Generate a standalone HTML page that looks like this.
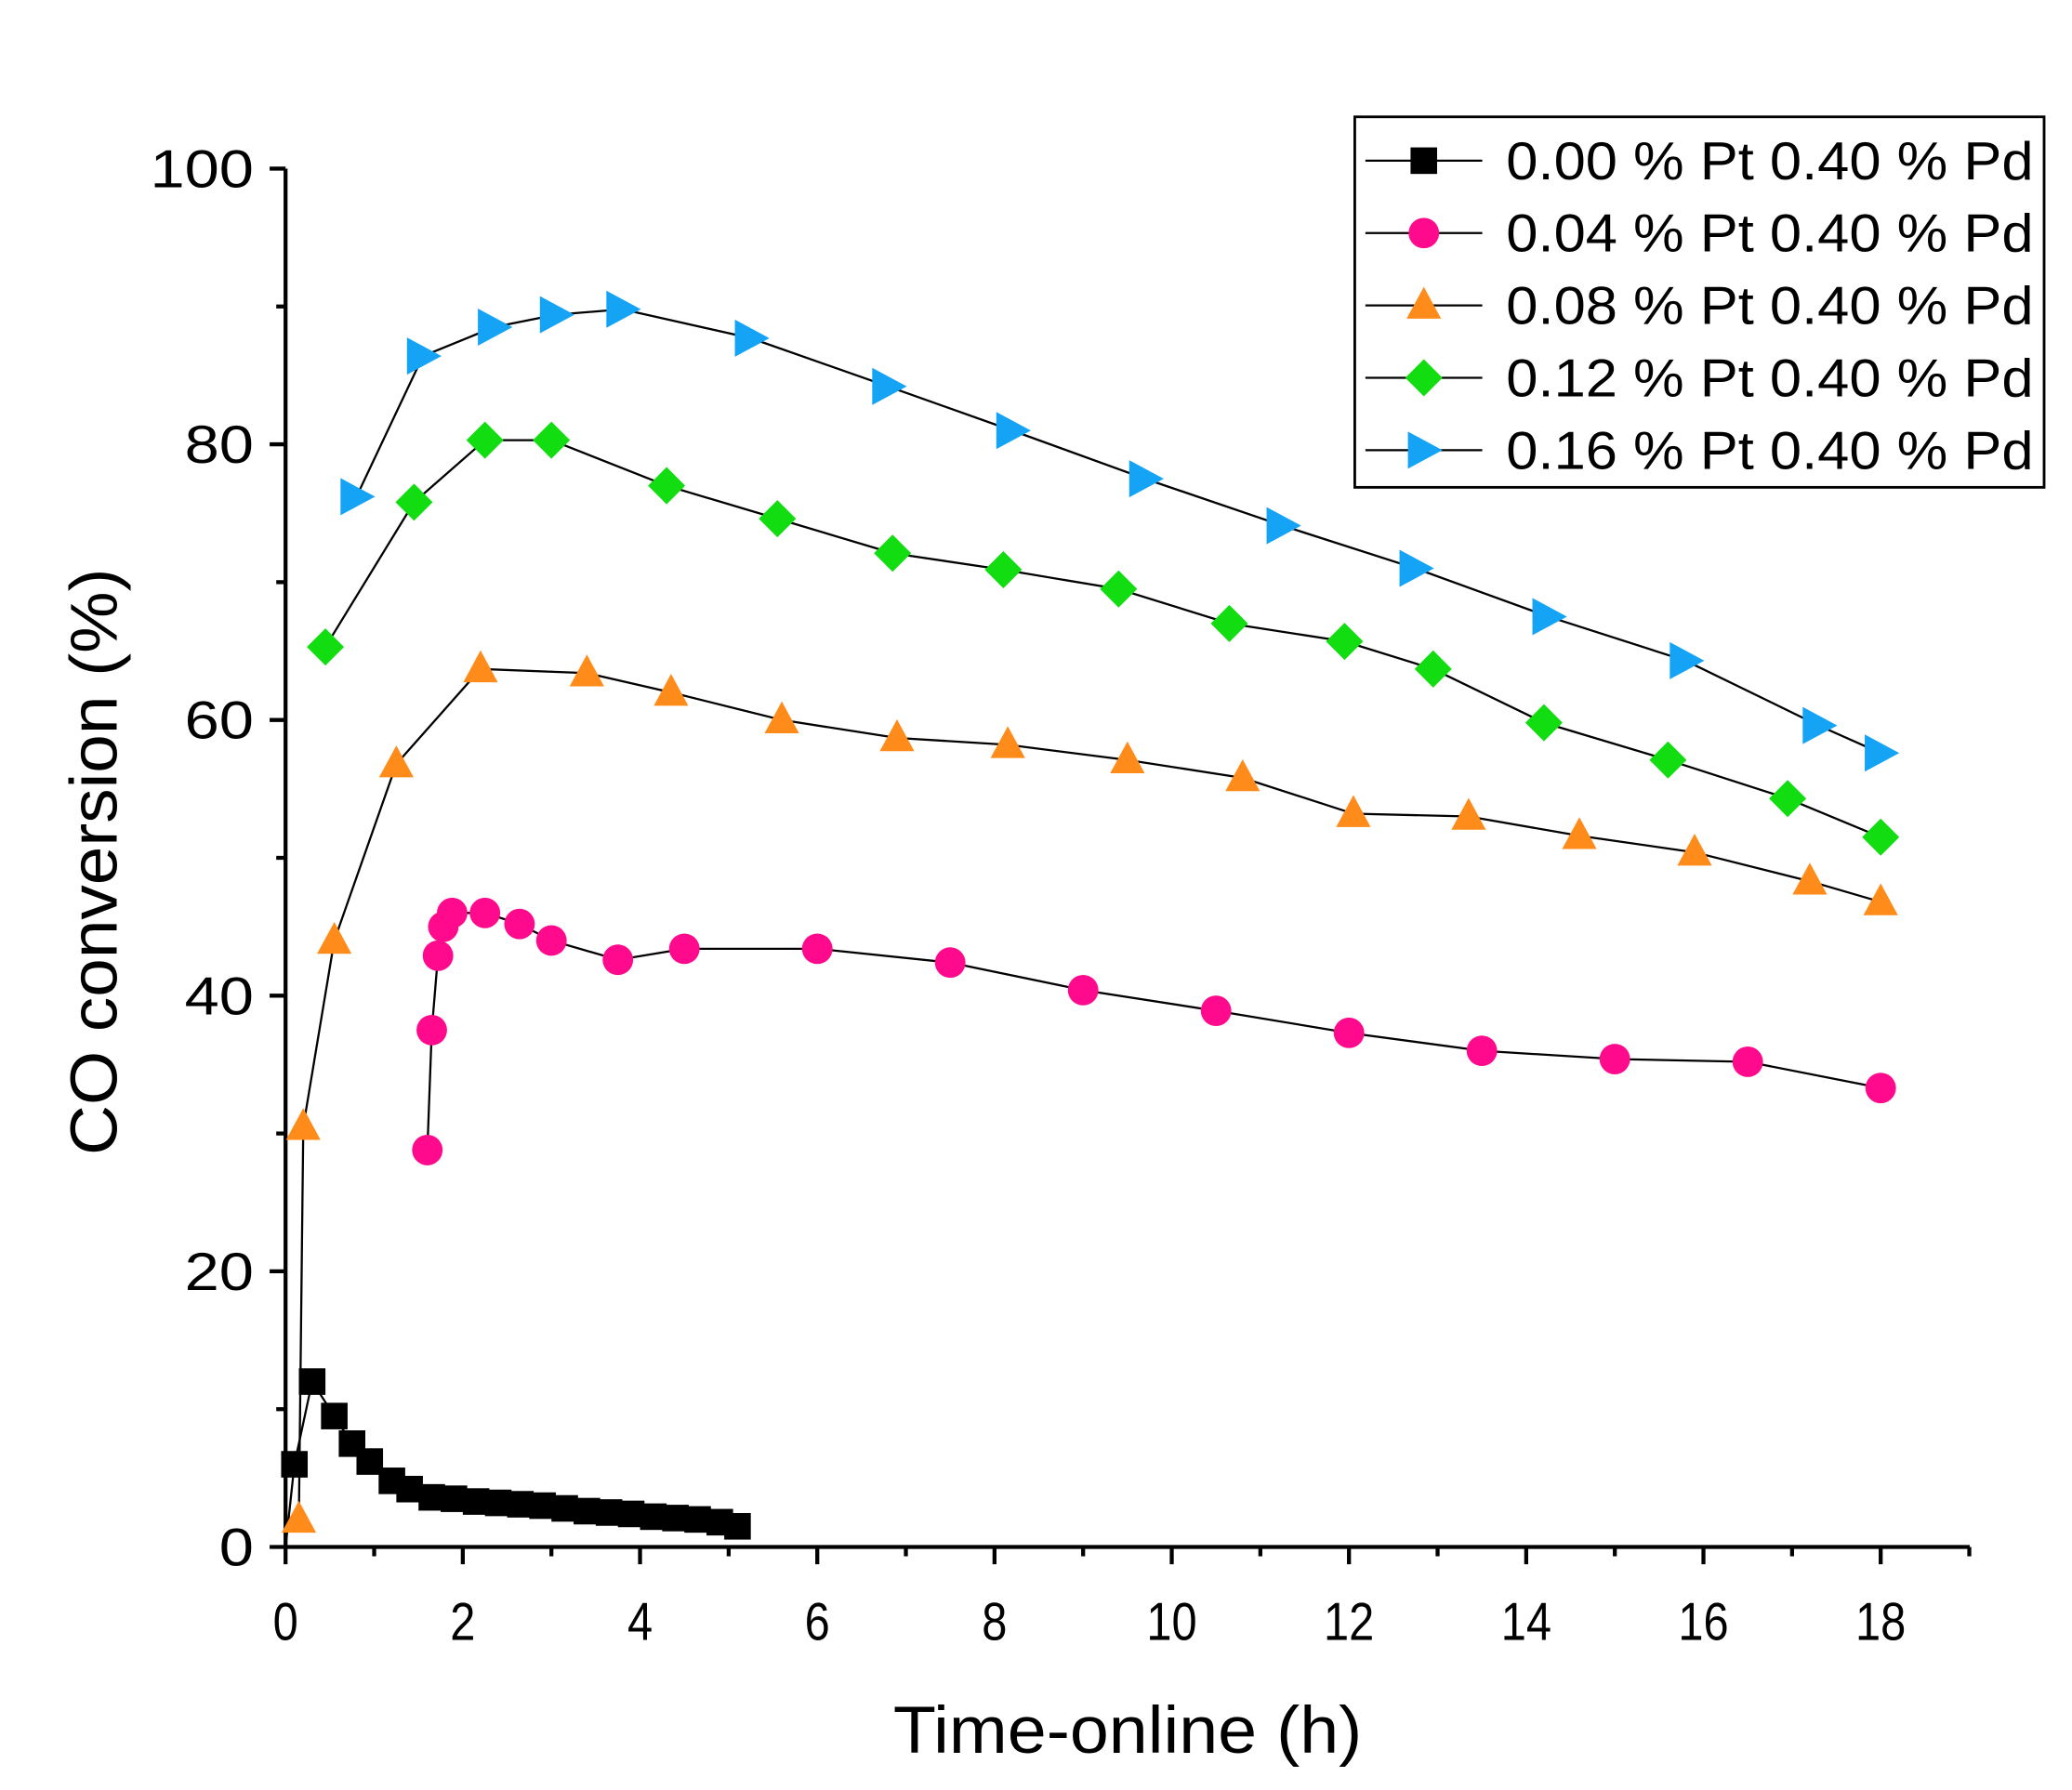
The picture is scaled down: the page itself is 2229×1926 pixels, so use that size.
<!DOCTYPE html>
<html><head><meta charset="utf-8"><style>
html,body{margin:0;padding:0;background:#fff;}
svg{display:block;}
text{font-family:"Liberation Sans",Arial,sans-serif;fill:#000;}
</style></head><body>
<svg id="c" width="2229" height="1926" viewBox="0 0 1560 1348" preserveAspectRatio="none" xmlns="http://www.w3.org/2000/svg">
<rect width="1560" height="1348" fill="#fff"/>
<g id="axes" stroke="#000" stroke-width="3" fill="none"></g>
<g id="series"></g>
<g id="labels"></g>
</svg>
<script>
const NS="http://www.w3.org/2000/svg";
const X=h=>215+h*66.72, Y=v=>1165-v*10.38;
const ax=document.getElementById('axes'), se=document.getElementById('series'), lb=document.getElementById('labels');
function el(p,t,a){const e=document.createElementNS(NS,t);for(const k in a)e.setAttribute(k,a[k]);p.appendChild(e);return e;}
function txt(p,x,y,s,size,anchor,len,extra){const a=Object.assign({x:x,y:y,'font-size':size,'text-anchor':anchor||'middle'},extra||{});if(len){a.textLength=len;a.lengthAdjust='spacingAndGlyphs';}const t=el(p,'text',a);t.textContent=s;return t;}
el(ax,'line',{x1:215,y1:1165,x2:1483,y2:1165});
el(ax,'line',{x1:215,y1:1166,x2:215,y2:127});
for(let h=0;h<=19;h++){el(ax,'line',{x1:X(h),y1:1165,x2:X(h),y2:h%2==0?1178:1172});if(h%2==0&&h<=18){const s=String(h);txt(lb,X(h),1235,s,40,'middle',s.length*19);}}
for(let v=0;v<=100;v+=10){el(ax,'line',{x1:215,y1:Y(v),x2:v%20==0?203:208,y2:Y(v)});if(v%20==0){const s=String(v);txt(lb,191,Y(v)+14,s,40,'end',s.length*26);}}
txt(lb,849,1320,'Time-online (h)',50,'middle',353);
txt(lb,0,0,'CO conversion (%)',50,'middle',442,{transform:'translate(88,649) rotate(-90)'});
const data=[
 {c:'#000',m:'s',p:[[0,0],[0.1,6],[0.3,12],[0.55,9.5],[0.75,7.5],[0.95,6.2],[1.2,4.8],[1.4,4.2],[1.65,3.6],[1.9,3.5],[2.15,3.3],[2.4,3.2],[2.65,3.1],[2.9,3],[3.15,2.8],[3.4,2.6],[3.65,2.5],[3.9,2.4],[4.15,2.2],[4.4,2.1],[4.65,2],[4.9,1.8],[5.1,1.5]]},
 {c:'#ff0a8c',m:'o',p:[[1.6,28.8],[1.65,37.5],[1.72,42.9],[1.78,45],[1.88,46],[2.25,46],[2.64,45.2],[3,44],[3.75,42.6],[4.5,43.4],[6,43.4],[7.5,42.4],[9,40.4],[10.5,38.9],[12,37.3],[13.5,36],[15,35.4],[16.5,35.2],[18,33.3]]},
 {c:'#ff8c1a',m:'t',p:[[0.15,2],[0.2,30.5],[0.55,44],[1.25,56.8],[2.2,63.7],[3.4,63.4],[4.35,62],[5.6,60],[6.9,58.7],[8.15,58.2],[9.5,57.1],[10.8,55.8],[12.05,53.2],[13.35,53],[14.6,51.6],[15.9,50.4],[17.2,48.3],[18,46.8]]},
 {c:'#11dd11',m:'d',p:[[0.45,65.3],[1.45,75.8],[2.25,80.3],[3,80.3],[4.3,77],[5.55,74.6],[6.85,72.1],[8.1,70.9],[9.4,69.5],[10.65,67],[11.95,65.7],[12.95,63.7],[14.2,59.8],[15.6,57.1],[16.95,54.3],[18,51.5]]},
 {c:'#15a4f5',m:'r',p:[[0.8,76.2],[1.55,86.4],[2.35,88.5],[3.05,89.4],[3.8,89.8],[5.25,87.7],[6.8,84.2],[8.2,81],[9.7,77.5],[11.25,74.1],[12.75,71],[14.25,67.5],[15.8,64.3],[17.3,59.6],[18,57.6]]}
];
function mk(g,m,x,y,c){
 if(m=='s')el(g,'rect',{x:x-10,y:y-10,width:20,height:20,fill:c});
 else if(m=='o')el(g,'circle',{cx:x,cy:y,r:11.5,fill:c});
 else if(m=='t')el(g,'polygon',{points:`${x},${y-14} ${x+13},${y+10} ${x-13},${y+10}`,fill:c});
 else if(m=='d')el(g,'polygon',{points:`${x},${y-14} ${x+14},${y} ${x},${y+14} ${x-14},${y}`,fill:c});
 else el(g,'polygon',{points:`${x-12},${y-14} ${x+14},${y} ${x-12},${y+14}`,fill:c});
}
data.forEach(d=>{
 el(se,'polyline',{points:d.p.map(q=>X(q[0])+','+Y(q[1])).join(' '),fill:'none',stroke:'#000','stroke-width':1.6});
});
data.forEach(d=>{d.p.forEach((q,i)=>{if(d.m=='s'&&i==0)return;mk(se,d.m,X(q[0]),Y(q[1]),d.c);});});
el(lb,'rect',{x:1020,y:88,width:519,height:279,fill:'#fff',stroke:'#000','stroke-width':2});
const names=['0.00','0.04','0.08','0.12','0.16'];
data.forEach((d,i)=>{const y=121+i*54.5;
 el(lb,'line',{x1:1028,y1:y,x2:1116,y2:y,stroke:'#000','stroke-width':1.6});
 mk(lb,d.m,1072,y,d.c);
 txt(lb,1134,y+14,names[i]+' % Pt 0.40 % Pd',40,'start',397);
});
</script>
</body></html>
